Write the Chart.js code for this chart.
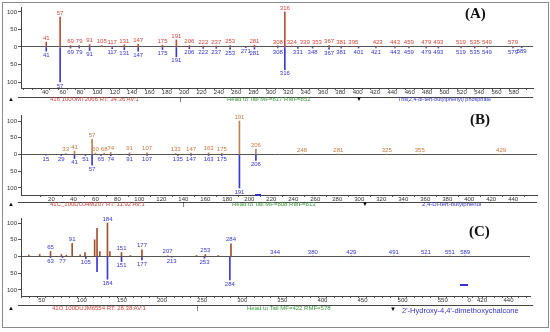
<!DOCTYPE html>
<html>
<head>
<meta charset="utf-8">
<script src="https://cdn.jsdelivr.net/npm/chart.js@4.4.0/dist/chart.umd.min.js"></script>
<style>
body{margin:0;width:550px;height:332px;background:#fff;position:relative;overflow:hidden;font-family:"Liberation Sans",Arial,sans-serif}
canvas{position:absolute;left:0}
.frame{position:absolute;left:2px;top:2px;width:545px;height:324px;border:1px solid #8a8a8a}
.t{position:absolute;white-space:nowrap;font-size:6px;line-height:6px}
.ln{position:absolute;height:1px;background:#444}
.red{color:#d0453a}.grn{color:#3c9a3c}.blu{color:#3434d0}
.tag{position:absolute;font-family:"Liberation Serif",serif;font-weight:bold;font-size:15px;line-height:15px;color:#111}
.dash{position:absolute;height:2px;background:#3434d0}
</style>
</head>
<body>
<div class="frame"></div>
<canvas id="chA" width="550" height="97" style="top:0px"></canvas>
<canvas id="chB" width="550" height="97" style="top:108px"></canvas>
<canvas id="chC" width="550" height="94" style="top:212px"></canvas>

<div class="tag" style="left:465px;top:6px">(A)</div>
<div class="tag" style="left:470px;top:112px">(B)</div>
<div class="tag" style="left:469px;top:224px">(C)</div>

<!-- footers -->
<div class="ln" style="left:18px;top:97px;width:515px"></div>
<div class="t" style="left:8px;top:96px">&#9650;</div>
<div class="t red" style="left:50px;top:96px">416 100UMT2066 RT: 34.36 AV:1</div>
<div class="t" style="left:180px;top:96px">|</div>
<div class="t grn" style="left:227px;top:96px">Head to Tail MF=817 RMF=852</div>
<div class="t" style="left:356px;top:96px">&#9660;</div>
<div class="t blu" style="left:398px;top:96px;font-size:5.5px">Tris(2,4-di-tert-butylphenyl) phosphate</div>

<div class="ln" style="left:18px;top:202px;width:519px"></div>
<div class="t" style="left:8px;top:201px">&#9650;</div>
<div class="t red" style="left:50px;top:201px">41C_100DUJ4M207 RT: 11.92 AV:1</div>
<div class="t" style="left:183px;top:201px">|</div>
<div class="t grn" style="left:232px;top:201px">Head to Tail MF=808 RMF=813</div>
<div class="t" style="left:362px;top:201px">&#9660;</div>
<div class="t blu" style="left:422px;top:201px">2,4-Di-tert-butylphenol</div>
<div class="dash" style="left:255px;top:194px;width:6px"></div>

<div class="ln" style="left:18px;top:305px;width:515px"></div>
<div class="t" style="left:8px;top:305px">&#9650;</div>
<div class="t red" style="left:52px;top:305px">41O 100DUJM6554 RT: 28.38 AV:1</div>
<div class="t" style="left:197px;top:305px">|</div>
<div class="t grn" style="left:247px;top:305px">Head to Tail MF=422 RMF=578</div>
<div class="t" style="left:390px;top:306px">&#9660;</div>
<div class="t blu" style="left:402px;top:307px;font-size:7.5px;line-height:8px">2'-Hydroxy-4,4'-dimethoxychalcone</div>
<div class="dash" style="left:460px;top:284px;width:8px"></div>

<script>
var yTicks = [-100, -50, 0, 50, 100];

// (A) Tris(2,4-di-tert-butylphenyl) phosphate
var aTickVals = [40, 60, 80, 100, 120, 140, 160, 180, 200, 220, 240, 260, 280, 300, 320, 340, 360, 380, 400, 420, 440, 460, 480, 500, 520, 540, 560, 580];
var aSampleMz = [41, 57, 69, 79, 91, 105, 117, 131, 147, 175, 191, 206, 222, 237, 253, 281, 308, 316, 324, 339, 353, 367, 381, 395, 423, 443, 459, 479, 493, 519, 535, 549, 579];
var aSampleInt = [14, 85, 4, 4, 7, 4, 2, 6, 8, 5, 20, 4, 3, 3, 4, 5, 3, 100, 3, 2, 2, 4, 2, 2, 2, 2, 2, 2, 2, 2, 2, 2, 2];
var aLibMz = [41, 57, 69, 79, 91, 117, 131, 147, 175, 191, 206, 222, 237, 253, 271, 281, 308, 316, 331, 348, 367, 381, 401, 421, 443, 459, 479, 493, 519, 535, 549, 579, 589];
var aLibInt = [-12, -100, -3, -3, -10, -5, -8, -12, -7, -28, -5, -4, -4, -6, -2, -6, -3, -65, -4, -3, -6, -3, -3, -3, -3, -3, -3, -3, -3, -3, -3, -3, -2];

// (B) 2,4-Di-tert-butylphenol
var bTickVals = [20, 40, 60, 80, 100, 120, 140, 160, 180, 200, 220, 240, 260, 280, 300, 320, 340, 360, 380, 400, 420, 440];
var bSampleMz = [33, 41, 57, 60, 68, 74, 91, 107, 133, 147, 163, 175, 191, 206, 248, 281, 325, 355, 429];
var bSampleInt = [3, 10, 45, 4, 4, 6, 5, 5, 3, 4, 5, 4, 100, 16, 0.5, 0.5, 0.5, 0.5, 0.5];
var bLibMz = [15, 29, 41, 51, 57, 65, 74, 91, 107, 135, 147, 163, 175, 191, 206];
var bLibInt = [-2, -3, -12, -3, -32, -3, -4, -3, -3, -3, -3, -3, -3, -100, -18];

// (C) 2'-Hydroxy-4,4'-dimethoxychalcone
var cTickVals = [50, 100, 150, 200, 250, 300, 350, 400, 450, 500, 550, 583, 599, 632];
var cTickText = ['50', '100', '150', '200', '250', '300', '350', '400', '450', '500', '550', '0', '420', '440'];
var cSamplePos = [34, 47.5, 61, 74.6, 80.7, 88, 98, 104, 116, 119, 122.5, 132, 135, 149.5, 160.6, 175, 207, 243, 254, 270, 286, 341, 388, 436, 489, 529, 559, 578];
var cSampleInt = [4, 6, 15, 6, 4, 39, 5, 12, 50, 84, 15, 100, 15, 12, 3, 20, 2, 3, 6, 3, 38, 0.5, 0.5, 0.5, 0.5, 0.5, 0.5, 0.5];
var cSampleText = ['', '', '65', '', '', '91', '', '', '', '', '', '184', '', '151', '', '177', '207', '', '253', '', '284', '344', '380', '429', '491', '521', '551', '589'];
var cLibPos = [61, 76, 105, 119, 132, 149.5, 175, 212, 253, 284.6];
var cLibInt = [-3, -3, -6, -45, -68, -15, -10, -2, -5, -70];
var cLibText = ['63', '77', '105', '', '184', '151', '177', '213', '253', '284'];

var peakLabels = {
  id: 'peakLabels',
  afterDatasetsDraw: function (chart) {
    var c = chart.ctx;
    c.save();
    c.font = '6px "Liberation Sans", Arial, sans-serif';
    c.textAlign = 'center';
    chart.data.datasets.forEach(function (ds, i) {
      var meta = chart.getDatasetMeta(i);
      c.fillStyle = ds.textColor;
      meta.data.forEach(function (el, j) {
        var t = ds.texts[j];
        if (!t) return;
        if (ds.data[j].y >= 0) {
          c.textBaseline = 'bottom';
          c.fillText(t, el.x, el.y - 1);
        } else {
          c.textBaseline = 'top';
          c.fillText(t, el.x, el.y + 1);
        }
      });
    });
    c.restore();
  }
};

function pts(xs, ys) {
  return xs.map(function (v, i) { return { x: v, y: ys[i] }; });
}

function spectrum(id, p) {
  var labelOf = {};
  p.tickVals.forEach(function (v, i) { labelOf[v] = p.tickText ? p.tickText[i] : String(v); });
  var allTicks = p.tickVals.slice();
  if (p.minor) {
    for (var m = p.minor[0]; m <= p.minor[1]; m += p.minor[2]) {
      if (allTicks.indexOf(m) < 0) allTicks.push(m);
    }
  }
  allTicks.sort(function (a, b) { return a - b; });

  return new Chart(document.getElementById(id), {
    type: 'bar',
    data: {
      datasets: [{
        data: pts(p.topX, p.topY),
        texts: p.topText,
        backgroundColor: p.topColor,
        textColor: p.topTextColor
      }, {
        data: pts(p.botX, p.botY),
        texts: p.botText,
        backgroundColor: '#3a3ad6',
        textColor: '#3434d0'
      }]
    },
    options: {
      responsive: false,
      animation: false,
      layout: { padding: { top: p.padTop, right: p.padRight, left: 0, bottom: 0 } },
      plugins: { legend: { display: false }, tooltip: { enabled: false } },
      datasets: { bar: { grouped: false, barThickness: 1 } },
      scales: {
        x: {
          type: 'linear',
          min: p.xMin,
          max: p.xMax,
          afterBuildTicks: function (s) { s.ticks = allTicks.map(function (v) { return { value: v }; }); },
          afterFit: function (s) { s.height = p.xH; },
          ticks: {
            autoSkip: false,
            maxRotation: 0,
            padding: -1,
            color: '#333',
            font: { size: 6, family: 'Liberation Sans' },
            callback: function (v) { return labelOf[v] !== undefined ? labelOf[v] : ''; }
          },
          grid: { drawOnChartArea: false, tickLength: 2, tickColor: '#555' },
          border: { color: '#444' }
        },
        y: {
          min: p.yMin,
          max: p.yMax,
          afterBuildTicks: function (s) { s.ticks = yTicks.map(function (v) { return { value: v }; }); },
          afterFit: function (s) { s.width = 21; },
          ticks: {
            padding: 1,
            color: '#333',
            font: { size: 6, family: 'Liberation Sans' },
            callback: function (v) { return String(Math.abs(v)); }
          },
          grid: {
            color: function (ctx) { return ctx.tick && ctx.tick.value === 0 ? '#555' : 'rgba(0,0,0,0)'; },
            tickLength: 3,
            tickColor: '#555'
          },
          border: { color: '#444' }
        }
      }
    },
    plugins: [peakLabels]
  });
}

spectrum('chA', {
  xMin: 17, xMax: 597, yMin: -117, yMax: 114, padTop: 7, padRight: 17, xH: 9,
  tickVals: aTickVals, minor: [20, 590, 10],
  topX: aSampleMz, topY: aSampleInt, topText: aSampleMz.map(String), topColor: '#b8503a', topTextColor: '#d8453a',
  botX: aLibMz, botY: aLibInt, botText: aLibMz.map(String)
});

spectrum('chB', {
  xMin: 3, xMax: 451, yMin: -121, yMax: 118, padTop: 7, padRight: 13, xH: 10,
  tickVals: bTickVals,
  topX: bSampleMz, topY: bSampleInt, topText: bSampleMz.map(String), topColor: '#c08058', topTextColor: '#c8783c',
  botX: bLibMz, botY: bLibInt, botText: bLibMz.map(String)
});

spectrum('chC', {
  xMin: 29, xMax: 654, yMin: -118, yMax: 115, padTop: 6, padRight: 20, xH: 10,
  tickVals: cTickVals, tickText: cTickText, minor: [30, 650, 10],
  topX: cSamplePos, topY: cSampleInt, topText: cSampleText, topColor: '#a0502c', topTextColor: '#3434d0',
  botX: cLibPos, botY: cLibInt, botText: cLibText
});
</script>
</body>
</html>
